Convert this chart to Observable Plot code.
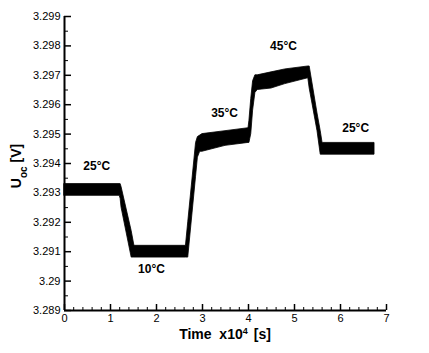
<!DOCTYPE html>
<html>
<head>
<meta charset="utf-8">
<script src="https://cdn.jsdelivr.net/npm/d3@7"></script>
<script src="https://cdn.jsdelivr.net/npm/@observablehq/plot@0.6"></script>
<style>
  html, body { margin: 0; padding: 0; background: #fff; }
  #chart svg { display: block; }
</style>
</head>
<body>
<div id="chart"></div>
<script>
// ---- data (time in 1e4 s, voltage band lower/upper edges in V) ----
const time  = [0,      1.20,   1.22,   1.24,   1.46,   1.52,   2.64,   2.69,   2.86,    2.90,   2.95,    3.00,   3.50,   4.00,   4.02,    4.06,   4.10,   4.15,   4.20,   4.50,    4.80,   5.30,   5.33,    5.50,   5.57,   5.61,   6.74];
const lower = [3.2929, 3.2929, 3.2928, 3.2925, 3.2908, 3.2908, 3.2908, 3.2908, 3.29355, 3.2942, 3.2944,  3.2944, 3.2946, 3.2947, 3.2947,  3.2950, 3.2958, 3.2964, 3.2965, 3.29655, 3.2967, 3.2969, 3.29655, 3.2951, 3.2943, 3.2943, 3.2943];
const upper = [3.2933, 3.2933, 3.2933, 3.2932, 3.2917, 3.2912, 3.2912, 3.2920, 3.2947,  3.2949, 3.29495, 3.2950, 3.2951, 3.2952, 3.29545, 3.2962, 3.2968, 3.2970, 3.2970, 3.2971,  3.2972, 3.2973, 3.2973,  3.2957, 3.2951, 3.2947, 3.2947];

const tempLabels = ["25°C", "10°C", "35°C", "45°C", "25°C"];
const tempX      = [0.70,   1.89,   3.48,   4.76,   6.33];
const tempY      = [3.2939, 3.2904, 3.2957, 3.2980, 3.2952];

const yTicks  = [3.289, 3.290, 3.291, 3.292, 3.293, 3.294, 3.295, 3.296, 3.297, 3.298, 3.299];
const yLabels = ["3.289", "3.29", "3.291", "3.292", "3.293", "3.294", "3.295", "3.296", "3.297", "3.298", "3.299"];
const yMinor  = [3.2895, 3.2905, 3.2915, 3.2925, 3.2935, 3.2945, 3.2955, 3.2965, 3.2975, 3.2985];
const xTicks  = [0, 1, 2, 3, 4, 5, 6, 7];
const xLabels = ["0", "1", "2", "3", "4", "5", "6", "7"];
const xMinor  = d3.range(0, 35).map(i => i / 5).filter(v => Math.abs(v - Math.round(v)) > 1e-6);

const band = time.map((t, i) => ({t, lo: lower[i], hi: upper[i]}));
const temps = tempLabels.map((s, i) => ({s, x: tempX[i], y: tempY[i]}));

const W = 429, H = 353, mL = 64, mR = 43, mT = 16, mB = 43;
const plotW = W - mL - mR, plotH = H - mT - mB;

const idx = (arr, d) => arr.findIndex(v => Math.abs(v - d) < 1e-9);

const chart = Plot.plot({
  width: W, height: H,
  marginLeft: mL, marginRight: mR, marginTop: mT, marginBottom: mB,
  style: {fontFamily: "'Liberation Sans', Arial, sans-serif", color: "#000", background: "#fff"},
  x: {domain: [0, 7]},
  y: {domain: [3.289, 3.299]},
  marks: [
    Plot.areaY(band, {x: "t", y1: "lo", y2: "hi", fill: "#000", stroke: "#000", strokeWidth: 0.8, curve: "linear"}),
    // inward ticks
    Plot.ruleY(yTicks, {stroke: "#000", strokeWidth: 1.5, insetRight: plotW - 7}),
    Plot.ruleY(yMinor, {stroke: "#000", strokeWidth: 1, insetRight: plotW - 4}),
    Plot.ruleX(xTicks, {stroke: "#000", strokeWidth: 1.5, insetTop: plotH - 6}),
    Plot.ruleX(xMinor, {stroke: "#000", strokeWidth: 1, insetTop: plotH - 3}),
    // axis lines
    Plot.ruleX([0], {stroke: "#000", strokeWidth: 2}),
    Plot.ruleY([3.289], {stroke: "#000", strokeWidth: 2}),
    Plot.axisY({ticks: yTicks, tickSize: 0, tickPadding: 4, fontSize: 11, label: null,
      tickFormat: d => yLabels[idx(yTicks, d)]}),
    Plot.axisX({ticks: xTicks, tickSize: 0, tickPadding: 4, fontSize: 11, label: null,
      tickFormat: d => xLabels[idx(xTicks, d)]}),
    Plot.text(temps, {x: "x", y: "y", text: "s", fontSize: 12, fontWeight: "bold", fill: "#000"})
  ]
});

document.getElementById("chart").appendChild(chart);

// axis titles with sub/superscripts
const svg = d3.select(chart);
const yl = svg.append("text")
  .attr("transform", `translate(21,${mT + plotH * 0.51}) rotate(-90)`)
  .attr("text-anchor", "middle")
  .attr("font-family", "'Liberation Sans', Arial, sans-serif")
  .attr("font-weight", "bold").attr("font-size", 14).attr("fill", "#000");
yl.append("tspan").text("U");
yl.append("tspan").attr("baseline-shift", "sub").attr("font-size", 10).text("oc");
yl.append("tspan").attr("dx", 4).text("[V]");

const xl = svg.append("text")
  .attr("x", mL + plotW / 2).attr("y", 339)
  .attr("text-anchor", "middle")
  .attr("font-family", "'Liberation Sans', Arial, sans-serif")
  .attr("font-weight", "bold").attr("font-size", 14).attr("fill", "#000")
  .attr("xml:space", "preserve");
xl.append("tspan").text("Time  x10");
xl.append("tspan").attr("baseline-shift", "super").attr("font-size", 9).text("4");
xl.append("tspan").attr("dx", 6).text("[s]");
</script>
</body>
</html>
